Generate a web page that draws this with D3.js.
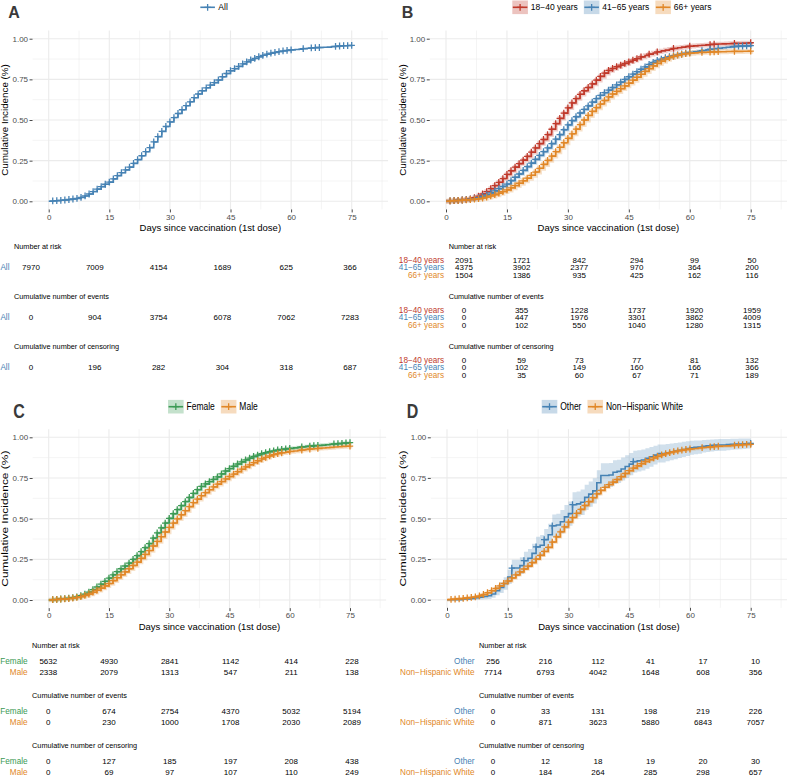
<!DOCTYPE html>
<html><head><meta charset="utf-8">
<script src="https://cdn.jsdelivr.net/npm/d3@7"></script>
<style>body{margin:0;background:#fff} svg{display:block} text{font-family:"Liberation Sans",Arial,Helvetica,sans-serif}</style>
</head><body><svg id="c" width="787" height="779"></svg>
<script>
// ---------- DATA ----------
const days = d3.range(0, 76);
const xTicks = [0, 15, 30, 45, 60, 75];
const xTickLabels = ["0", "15", "30", "45", "60", "75"];
const yTicks = [0, 0.25, 0.5, 0.75, 1];
const yTickLabels = ["0.00", "0.25", "0.50", "0.75", "1.00"];

// cumulative incidence per day (0..75)
const allCI = [0,0.002,0.004,0.006,0.008,0.011,0.014,0.018,0.024,0.033,
 0.045,0.06,0.075,0.09,0.105,0.118,0.138,0.158,0.176,0.193,
 0.21,0.233,0.256,0.28,0.305,0.33,0.365,0.398,0.43,0.46,
 0.488,0.515,0.54,0.563,0.588,0.612,0.637,0.66,0.68,0.698,
 0.715,0.73,0.746,0.766,0.786,0.803,0.816,0.83,0.845,0.858,
 0.869,0.879,0.889,0.898,0.905,0.911,0.916,0.921,0.925,0.928,
 0.931,0.934,0.936,0.939,0.941,0.943,0.945,0.946,0.947,0.948,
 0.951,0.953,0.955,0.957,0.958,0.959];
const age1840CI = [0,0.002,0.004,0.006,0.008,0.011,0.015,0.022,0.032,0.045,
 0.06,0.078,0.097,0.117,0.14,0.165,0.188,0.21,0.232,0.253,
 0.276,0.302,0.328,0.355,0.38,0.41,0.443,0.478,0.51,0.542,
 0.575,0.605,0.632,0.658,0.68,0.7,0.722,0.745,0.768,0.788,
 0.805,0.817,0.828,0.838,0.848,0.858,0.868,0.878,0.888,0.897,
 0.905,0.912,0.919,0.925,0.93,0.935,0.94,0.944,0.948,0.951,
 0.954,0.956,0.958,0.96,0.962,0.964,0.966,0.967,0.968,0.969,
 0.97,0.971,0.972,0.973,0.974,0.975];
const age4165CI = [0,0.002,0.004,0.006,0.008,0.01,0.013,0.017,0.022,0.03,
 0.04,0.052,0.064,0.078,0.092,0.106,0.127,0.148,0.168,0.19,
 0.213,0.235,0.258,0.282,0.305,0.328,0.355,0.382,0.41,0.44,
 0.47,0.496,0.52,0.543,0.565,0.587,0.61,0.632,0.652,0.668,
 0.684,0.7,0.716,0.733,0.75,0.766,0.782,0.797,0.812,0.827,
 0.842,0.855,0.866,0.875,0.883,0.889,0.895,0.901,0.906,0.911,
 0.915,0.919,0.923,0.927,0.931,0.935,0.938,0.941,0.944,0.947,
 0.95,0.952,0.954,0.955,0.956,0.957];
const age66CI = [0,0.002,0.004,0.005,0.007,0.009,0.011,0.013,0.016,0.02,
 0.026,0.033,0.041,0.05,0.06,0.07,0.083,0.097,0.111,0.126,
 0.142,0.16,0.18,0.203,0.227,0.252,0.278,0.305,0.332,0.36,
 0.387,0.415,0.444,0.472,0.5,0.528,0.553,0.576,0.598,0.62,
 0.642,0.66,0.676,0.693,0.71,0.727,0.745,0.763,0.781,0.799,
 0.816,0.833,0.848,0.862,0.874,0.884,0.892,0.899,0.904,0.908,
 0.911,0.913,0.915,0.916,0.917,0.918,0.919,0.92,0.92,0.921,
 0.921,0.922,0.922,0.923,0.923,0.924];
const femaleCI = [0,0.002,0.004,0.006,0.008,0.011,0.014,0.019,0.026,0.036,
 0.049,0.064,0.08,0.097,0.115,0.135,0.155,0.174,0.192,0.209,
 0.227,0.25,0.273,0.297,0.322,0.347,0.38,0.412,0.443,0.473,
 0.502,0.53,0.556,0.58,0.605,0.63,0.655,0.678,0.698,0.714,
 0.728,0.742,0.757,0.775,0.793,0.808,0.822,0.836,0.849,0.861,
 0.872,0.882,0.891,0.899,0.906,0.912,0.917,0.922,0.926,0.929,
 0.932,0.935,0.938,0.941,0.944,0.946,0.948,0.95,0.952,0.954,
 0.957,0.959,0.961,0.963,0.965,0.967];
const maleCI = [0,0.002,0.004,0.005,0.007,0.009,0.012,0.016,0.021,0.028,
 0.037,0.048,0.06,0.073,0.087,0.101,0.119,0.137,0.155,0.173,
 0.192,0.212,0.233,0.256,0.28,0.304,0.332,0.36,0.389,0.418,
 0.446,0.473,0.499,0.524,0.549,0.574,0.598,0.62,0.641,0.66,
 0.678,0.695,0.712,0.728,0.744,0.759,0.774,0.789,0.804,0.818,
 0.831,0.844,0.856,0.867,0.877,0.886,0.894,0.9,0.905,0.909,
 0.913,0.916,0.919,0.922,0.925,0.928,0.93,0.932,0.934,0.936,
 0.938,0.94,0.942,0.944,0.945,0.946];
const otherCI = [0,0,0,0,0.004,0.004,0.008,0.012,0.016,0.02,
 0.024,0.035,0.055,0.075,0.1,0.14,0.195,0.195,0.21,0.24,
 0.255,0.285,0.325,0.335,0.37,0.4,0.455,0.46,0.48,0.51,
 0.53,0.585,0.59,0.6,0.63,0.65,0.67,0.72,0.765,0.765,
 0.768,0.785,0.79,0.805,0.82,0.835,0.85,0.855,0.86,0.87,
 0.88,0.89,0.9,0.9,0.905,0.91,0.915,0.92,0.925,0.93,
 0.935,0.938,0.94,0.945,0.947,0.95,0.952,0.953,0.953,0.955,
 0.957,0.958,0.959,0.96,0.962,0.963];
const otherLow = [0,0,0,0,0,0,0,0,0.001,0.003,
 0.005,0.012,0.027,0.042,0.062,0.096,0.144,0.144,0.158,0.185,
 0.198,0.226,0.263,0.272,0.305,0.333,0.385,0.39,0.408,0.437,
 0.455,0.508,0.513,0.522,0.552,0.572,0.592,0.643,0.69,0.69,
 0.694,0.712,0.718,0.734,0.75,0.767,0.783,0.789,0.795,0.807,
 0.819,0.832,0.845,0.845,0.852,0.858,0.865,0.872,0.878,0.885,
 0.892,0.896,0.899,0.906,0.909,0.913,0.916,0.917,0.917,0.92,
 0.923,0.925,0.926,0.928,0.931,0.933];
const otherHigh = [0,0,0,0,0.012,0.012,0.019,0.025,0.031,0.037,
 0.043,0.058,0.083,0.108,0.138,0.184,0.246,0.246,0.262,0.295,
 0.312,0.344,0.387,0.398,0.435,0.467,0.525,0.53,0.552,0.583,
 0.605,0.662,0.667,0.678,0.708,0.728,0.748,0.797,0.84,0.84,
 0.842,0.858,0.862,0.876,0.89,0.903,0.917,0.921,0.925,0.933,
 0.941,0.948,0.955,0.955,0.958,0.962,0.965,0.968,0.972,0.975,
 0.978,0.98,0.981,0.984,0.985,0.987,0.988,0.989,0.989,0.99,
 0.991,0.991,0.992,0.992,0.993,0.993];
const nhwCI = [0,0.002,0.004,0.006,0.008,0.011,0.014,0.018,0.024,0.032,
 0.043,0.056,0.07,0.085,0.1,0.115,0.134,0.153,0.171,0.189,
 0.207,0.228,0.25,0.273,0.297,0.322,0.355,0.387,0.418,0.448,
 0.478,0.506,0.532,0.556,0.58,0.604,0.628,0.652,0.673,0.692,
 0.709,0.724,0.74,0.758,0.777,0.795,0.81,0.824,0.838,0.851,
 0.862,0.873,0.883,0.892,0.9,0.906,0.912,0.917,0.921,0.925,
 0.928,0.931,0.934,0.937,0.939,0.941,0.943,0.945,0.946,0.947,
 0.949,0.951,0.953,0.955,0.956,0.957];

// censoring mark days
const allCens = [1,2,3,4,5,6,7,8,9,10,11,12,13,14,15,16,17,18,19,20,21,22,23,24,25,26,27,28,29,30,31,32,33,34,35,36,37,38,39,40,41,42,43,44,45,46,47,48,49,50,51,52,53,54,55,56,57,58,59,60,63,65,66,67,71,72,73,74,75];
const age1840Cens = [1,2,3,4,5,6,7,8,9,10,11,12,13,14,15,16,17,18,19,20,21,22,23,24,25,26,27,28,29,30,31,32,33,34,35,36,37,38,39,40,41,42,43,44,45,46,47,48,50,52,56,60,65,66,71,75];
const age4165Cens = [1,2,3,4,5,6,7,8,9,10,11,12,13,14,15,16,17,18,19,20,21,22,23,24,25,26,27,28,29,30,31,32,33,34,35,36,37,38,39,40,41,42,43,44,45,46,47,48,49,50,51,52,53,54,55,56,57,58,59,60,63,65,67,71,72,73,74,75];
const age66Cens = [1,2,3,4,5,6,7,8,9,10,11,12,13,14,15,16,17,18,19,20,21,22,23,24,25,26,27,28,29,30,31,32,33,34,35,36,37,38,39,40,41,42,43,44,45,46,47,48,49,50,51,52,53,54,55,56,57,58,59,60,63,65,66,67,71,75];
const femaleCens = [1,2,3,4,5,6,7,8,9,10,11,12,13,14,15,16,17,18,19,20,21,22,23,24,25,26,27,28,29,30,31,32,33,34,35,36,37,38,39,40,41,42,43,44,45,46,47,48,49,50,51,52,53,54,55,56,57,58,59,60,63,65,66,67,71,72,73,74,75];
const maleCens = [1,2,3,4,5,6,7,8,9,10,11,12,13,14,15,16,17,18,19,20,21,22,23,24,25,26,27,28,29,30,31,32,33,34,35,36,37,38,39,40,41,42,43,44,45,46,47,48,49,50,51,52,53,54,55,56,57,58,60,63,65,67,75];
const otherCens = [16,19,22,24,26,31,46,75];
const nhwCens = [1,2,3,4,5,6,7,8,9,10,11,12,13,14,15,16,17,18,19,20,21,22,23,24,25,26,27,28,29,30,31,32,33,34,35,36,37,38,39,40,41,42,43,44,45,46,47,48,49,50,51,52,53,54,55,56,57,58,59,60,63,65,66,67,71,72,73,74,75];

// risk tables (columns at xTicks)
const riskAll = [7970,7009,4154,1689,625,366];
const eventsAll = [0,904,3754,6078,7062,7283];
const censAll = [0,196,282,304,318,687];
const risk1840 = [2091,1721,842,294,99,50];
const risk4165 = [4375,3902,2377,970,364,200];
const risk66 = [1504,1386,935,425,162,116];
const events1840 = [0,355,1228,1737,1920,1959];
const events4165 = [0,447,1976,3301,3862,4009];
const events66 = [0,102,550,1040,1280,1315];
const cens1840 = [0,59,73,77,81,132];
const cens4165 = [0,102,149,160,166,366];
const cens66 = [0,35,60,67,71,189];
const riskFemale = [5632,4930,2841,1142,414,228];
const riskMale = [2338,2079,1313,547,211,138];
const eventsFemale = [0,674,2754,4370,5032,5194];
const eventsMale = [0,230,1000,1708,2030,2089];
const censFemale = [0,127,185,197,208,438];
const censMale = [0,69,97,107,110,249];
const riskOther = [256,216,112,41,17,10];
const riskNHW = [7714,6793,4042,1648,608,356];
const eventsOther = [0,33,131,198,219,226];
const eventsNHW = [0,871,3623,5880,6843,7057];
const censOther = [0,12,18,19,20,30];
const censNHW = [0,184,264,285,298,657];

const tableTitles = ["Number at risk", "Cumulative number of events", "Cumulative number of censoring"];

// ---------- STYLE ----------
const RED = "#C0392B", BLUE = "#4682B4", ORANGE = "#E18727", GREEN = "#3C9A55";

const svg = d3.select("#c");
svg.append("rect").attr("width", 787).attr("height", 779).attr("fill", "#fff");
let clipId = 0;

function drawPanel(cfg) {
  const g = svg.append("g");
  const x = d3.scaleLinear().domain([0, 75]).range([cfg.x0, cfg.x75]);
  const y = d3.scaleLinear().domain([0, 1]).range([cfg.y0, cfg.y1]);
  const L = x(-4), R = Math.min(x(84), 787), T = y(1.05), B = y(-0.05);
  const sy = cfg.stretch || 1;

  // grid
  const grid = g.append("g");
  [7.5, 22.5, 37.5, 52.5, 67.5, 82.5].forEach(v => { if (x(v) < R) grid.append("line").attr("x1", x(v)).attr("x2", x(v)).attr("y1", T).attr("y2", B).attr("stroke", "#EBEBEB").attr("stroke-width", 0.55); });
  [0.125, 0.375, 0.625, 0.875].forEach(v => grid.append("line").attr("x1", L).attr("x2", R).attr("y1", y(v)).attr("y2", y(v)).attr("stroke", "#EBEBEB").attr("stroke-width", 0.55));
  xTicks.forEach(v => grid.append("line").attr("x1", x(v)).attr("x2", x(v)).attr("y1", T).attr("y2", B).attr("stroke", "#EBEBEB").attr("stroke-width", 1.1));
  yTicks.forEach(v => grid.append("line").attr("x1", L).attr("x2", R).attr("y1", y(v)).attr("y2", y(v)).attr("stroke", "#EBEBEB").attr("stroke-width", 1.1));

  // clip
  const cid = "clip" + (clipId++);
  svg.append("clipPath").attr("id", cid).append("rect").attr("x", L).attr("y", T).attr("width", R - L).attr("height", B - T);
  const plot = g.append("g").attr("clip-path", `url(#${cid})`);

  const line = d3.line().x(d => x(d[0])).y(d => y(d[1])).curve(d3.curveStepAfter);
  const area = d3.area().x(d => x(d[0])).y0(d => y(d[1])).y1(d => y(d[2])).curve(d3.curveStepAfter);

  cfg.series.forEach(s => {
    if (s.low) {
      plot.append("path").datum(days.map(d => [d, s.low[d], s.high[d]])).attr("d", area).attr("fill", s.color).attr("fill-opacity", 0.25);
    } else if (s.halo) {
      plot.append("path").datum(days.map(d => [d, s.values[d]])).attr("d", line).attr("fill", "none").attr("stroke", s.color).attr("stroke-opacity", 0.25).attr("stroke-width", s.halo);
    }
  });
  cfg.series.forEach(s => {
    plot.append("path").datum(days.map(d => [d, s.values[d]])).attr("d", line).attr("fill", "none").attr("stroke", s.color).attr("stroke-width", 1.6);
    plot.append("g").selectAll("path").data(s.cens).join("path")
      .attr("d", d => `M${x(d) - 3.2},${y(s.values[d])}H${x(d) + 3.2}M${x(d)},${y(s.values[d]) - 3.4}V${y(s.values[d]) + 3.4}`)
      .attr("stroke", s.color).attr("stroke-width", 1.3).attr("fill", "none");
  });

  // axes
  const ya = g.append("g").attr("transform", `translate(${L},0)`)
    .call(d3.axisLeft(y).tickValues(yTicks).tickFormat((d, i) => yTickLabels[i]).tickSize(3).tickPadding(1.5));
  const xa = g.append("g").attr("transform", `translate(0,${B})`)
    .call(d3.axisBottom(x).tickValues(xTicks).tickFormat((d, i) => xTickLabels[i]).tickSize(3).tickPadding(1.5));
  [ya, xa].forEach(a => {
    a.select(".domain").remove();
    a.selectAll(".tick line").attr("stroke", "#333").attr("stroke-width", 0.9);
    a.selectAll(".tick text").attr("fill", "#4D4D4D").attr("font-size", 8).attr("font-family", '"Liberation Sans",Arial,sans-serif');
  });

  // titles
  g.append("text").attr("transform", `translate(${cfg.ytitleX},${(T + B) / 2}) scale(1,${sy}) rotate(-90)`)
    .attr("text-anchor", "middle").attr("font-size", 9.8).attr("fill", "#000").text("Cumulative Incidence (%)");
  g.append("text").attr("x", (L + R) / 2).attr("y", cfg.xtitleY).attr("dy", "0.35em").attr("text-anchor", "middle")
    .attr("font-size", 9.5).attr("fill", "#000").text("Days since vaccination (1st dose)");
  g.append("text").attr("transform", `translate(${cfg.letterX},${cfg.letterY}) scale(1,${sy})`)
    .attr("font-size", 16).attr("font-weight", "bold").attr("fill", "#3A3A3A").text(cfg.letter);

  // legend
  const lg = g.append("g");
  let cx = 0;
  cfg.series.forEach(s => {
    const it = lg.append("g").attr("transform", `translate(${cx},0)`);
    if (s.low || s.halo) it.append("rect").attr("x", 0).attr("y", -6.8).attr("width", 15.6).attr("height", 13.6).attr("fill", s.color).attr("fill-opacity", 0.3);
    it.append("line").attr("x1", 0.5).attr("x2", 15.1).attr("y1", 0).attr("y2", 0).attr("stroke", s.color).attr("stroke-width", 1.6);
    it.append("path").attr("d", "M4.6,0H11M7.8,-3.4V3.4").attr("stroke", s.color).attr("stroke-width", 1.3);
    const t = it.append("text").attr("x", 18.5).attr("dy", "0.35em").attr("font-size", 8.5).attr("fill", "#000")
      .attr("transform", `scale(1,${sy})`).text(s.name);
    const w = t.node().getComputedTextLength();
    cx += 18.5 + w + 6;
  });
  const totalW = cx - 6;
  lg.attr("transform", `translate(${(L + R) / 2 + 3.5 - totalW / 2},${cfg.legendY})`);

  // tables
  const tx = d3.scaleLinear().domain([0, 75]).range([cfg.t0, cfg.t75]);
  const tL = tx(-4);
  const blocks = [cfg.series.map(s => s.risk), cfg.series.map(s => s.events), cfg.series.map(s => s.censor)];
  const n = cfg.series.length;
  const sp = 23.2 / n;
  blocks.forEach((rows, k) => {
    const hy = cfg.tableY + k * 50;
    g.append("text").attr("x", tL).attr("y", hy).attr("dy", "0.35em").attr("font-size", 7.3).attr("fill", "#000").text(tableTitles[k]);
    const c = hy + 21.6;
    rows.forEach((vals, i) => {
      const ry = c + (i - (n - 1) / 2) * sp;
      const s = cfg.series[i];
      g.append("text").attr("x", tL - 4.5).attr("y", ry).attr("dy", "0.35em").attr("text-anchor", "end")
        .attr("font-size", 8.2).attr("fill", s.color).text(s.name);
      vals.forEach((v, j) => {
        g.append("text").attr("x", tx(xTicks[j])).attr("y", ry).attr("dy", "0.35em").attr("text-anchor", "middle")
          .attr("font-size", 8).attr("fill", "#000").text(v);
      });
    });
  });
}

drawPanel({
  letter: "A", letterX: 8.3, letterY: 18.4,
  x0: 48.7, x75: 351.7, y0: 201.3, y1: 38.7,
  ytitleX: 8.2, xtitleY: 227.3, legendY: 7.3, tableY: 246,
  t0: 31, t75: 350,
  series: [{ name: "All", color: BLUE, values: allCI, cens: allCens, risk: riskAll, events: eventsAll, censor: censAll }]
});
drawPanel({
  letter: "B", letterX: 401.7, letterY: 18.4,
  x0: 446, x75: 750.7, y0: 201.3, y1: 38.7,
  ytitleX: 406, xtitleY: 227.3, legendY: 7.3, tableY: 246,
  t0: 464, t75: 752,
  series: [
    { name: "18\u221240 years", color: RED, values: age1840CI, cens: age1840Cens, halo: 4.5, risk: risk1840, events: events1840, censor: cens1840 },
    { name: "41\u221265 years", color: BLUE, values: age4165CI, cens: age4165Cens, halo: 3.5, risk: risk4165, events: events4165, censor: cens4165 },
    { name: "66+ years", color: ORANGE, values: age66CI, cens: age66Cens, halo: 5, risk: risk66, events: events66, censor: cens66 }
  ]
});
drawPanel({
  letter: "C", letterX: 13.3, letterY: 417.6, stretch: 1.22,
  x0: 48.7, x75: 350, y0: 600, y1: 437.3,
  ytitleX: 7.5, xtitleY: 626.7, legendY: 406.7, tableY: 645,
  t0: 48.3, t75: 352,
  series: [
    { name: "Female", color: GREEN, values: femaleCI, cens: femaleCens, halo: 3.5, risk: riskFemale, events: eventsFemale, censor: censFemale },
    { name: "Male", color: ORANGE, values: maleCI, cens: maleCens, halo: 4.5, risk: riskMale, events: eventsMale, censor: censMale }
  ]
});
drawPanel({
  letter: "D", letterX: 406.7, letterY: 417.6, stretch: 1.22,
  x0: 447, x75: 750.7, y0: 599.7, y1: 437.3,
  ytitleX: 405.5, xtitleY: 626.7, legendY: 406.7, tableY: 645,
  t0: 493, t75: 755.5,
  series: [
    { name: "Other", color: BLUE, values: otherCI, low: otherLow, high: otherHigh, cens: otherCens, risk: riskOther, events: eventsOther, censor: censOther },
    { name: "Non\u2212Hispanic White", color: ORANGE, values: nhwCI, cens: nhwCens, halo: 3.5, risk: riskNHW, events: eventsNHW, censor: censNHW }
  ]
});
</script>
</body></html>
